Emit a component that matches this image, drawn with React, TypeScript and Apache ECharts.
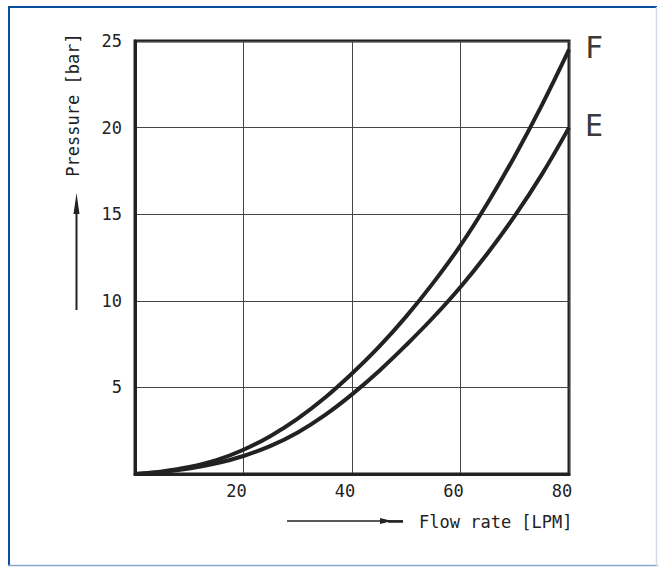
import React, { useEffect, useRef } from "react";
import * as echarts from "echarts";

const flowRate = [0, 5, 10, 15, 20, 25, 30, 35, 40, 45, 50, 55, 60, 65, 70, 75, 80];
const pressureF = [0, 0.15, 0.4, 0.8, 1.4, 2.2, 3.2, 4.4, 5.8, 7.35, 9.1, 11.05, 13.2, 15.65, 18.35, 21.3, 24.5];
const pressureE = [0, 0.12, 0.32, 0.62, 1.04, 1.62, 2.4, 3.4, 4.6, 5.95, 7.45, 9.05, 10.8, 12.75, 14.9, 17.3, 20.0];
const xTicks = [20, 40, 60, 80];
const yTicks = [5, 10, 15, 20, 25];
const seriesNames = ["F", "E"];
const xName = "Flow rate [LPM]";
const yName = "Pressure [bar]";

const MONO = "'DejaVu Sans Mono', monospace";

export default function App() {
  const ref = useRef<HTMLDivElement>(null);
  useEffect(() => {
    if (!ref.current) return;
    const chart = echarts.init(ref.current, null, { renderer: "svg" });
    const mk = (vals: number[]) => flowRate.map((x, i) => [x, vals[i]]);
    const lineStyle = { color: "#222", width: 4 };
    const endLabel = (name: string) => ({
      show: true,
      formatter: name,
      fontFamily: MONO,
      fontSize: 30,
      color: "#3a3a3a",
      distance: 16,
      offset: [0, -2],
    });
    chart.setOption({
      animation: false,
      backgroundColor: "#fff",
      grid: {
        left: 135,
        top: 41,
        right: 89,
        bottom: 93,
        show: true,
        borderColor: "#222",
        borderWidth: 3,
      },
      xAxis: {
        type: "value",
        min: 0,
        max: 80,
        interval: 20,
        axisLine: { show: true, onZero: false, lineStyle: { color: "#222", width: 3 } },
        axisTick: { show: false },
        splitLine: { show: true, lineStyle: { color: "#444", width: 1 } },
        axisLabel: {
          fontFamily: MONO,
          fontSize: 17,
          color: "#222",
          margin: 8,
          padding: [0, 14, 0, 0],
          formatter: (v: number) => (xTicks.includes(v) ? String(v) : ""),
        },
      },
      yAxis: {
        type: "value",
        min: 0,
        max: 25,
        interval: 5,
        axisLine: { show: true, onZero: false, lineStyle: { color: "#222", width: 3 } },
        axisTick: { show: false },
        splitLine: { show: true, lineStyle: { color: "#444", width: 1 } },
        axisLabel: {
          fontFamily: MONO,
          fontSize: 17,
          color: "#222",
          margin: 13,
          formatter: (v: number) => (yTicks.includes(v) ? String(v) : ""),
        },
      },
      series: [
        {
          type: "line",
          name: seriesNames[0],
          data: mk(pressureF),
          smooth: 0.4,
          showSymbol: false,
          lineStyle,
          endLabel: endLabel(seriesNames[0]),
          clip: false,
        },
        {
          type: "line",
          name: seriesNames[1],
          data: mk(pressureE),
          smooth: 0.4,
          showSymbol: false,
          lineStyle,
          endLabel: endLabel(seriesNames[1]),
          clip: false,
        },
      ],
      graphic: [
        // frame
        { type: "line", shape: { x1: 8, y1: 7, x2: 657, y2: 7 }, style: { stroke: "#0a4f9a", lineWidth: 2 } },
        { type: "line", shape: { x1: 9, y1: 6, x2: 9, y2: 566 }, style: { stroke: "#0a4f9a", lineWidth: 2 } },
        { type: "line", shape: { x1: 8, y1: 565.5, x2: 658, y2: 565.5 }, style: { stroke: "#86a6c9", lineWidth: 1.5 } },
        { type: "line", shape: { x1: 656.5, y1: 7, x2: 656.5, y2: 566 }, style: { stroke: "#d3dde8", lineWidth: 1.5 } },
        // y name + arrow
        {
          type: "text",
          x: 73,
          y: 105,
          rotation: Math.PI / 2,
          style: {
            text: yName,
            fontFamily: MONO,
            fontSize: 17,
            fill: "#222",
            align: "center",
            verticalAlign: "middle",
          },
        },
        { type: "line", shape: { x1: 76.5, y1: 205, x2: 76.5, y2: 310 }, style: { stroke: "#222", lineWidth: 2 } },
        { type: "polygon", shape: { points: [[76.5, 193], [73.5, 214], [79.5, 214]] }, style: { fill: "#222" } },
        // x name + arrow
        {
          type: "text",
          x: 419,
          y: 522,
          style: {
            text: xName,
            fontFamily: MONO,
            fontSize: 17,
            fill: "#222",
            align: "left",
            verticalAlign: "middle",
          },
        },
        { type: "line", shape: { x1: 287, y1: 521, x2: 403, y2: 521 }, style: { stroke: "#222", lineWidth: 1.5 } },
        { type: "polygon", shape: { points: [[392, 521], [380, 518], [380, 524]] }, style: { fill: "#222" } },
        { type: "line", shape: { x1: 388, y1: 521.5, x2: 403, y2: 521.5 }, style: { stroke: "#222", lineWidth: 2.5 } },
      ],
    });
    return () => chart.dispose();
  }, []);
  return (
    <div
      ref={ref}
      style={{ position: "absolute", left: 0, top: 0, width: 658, height: 567 }}
    />
  );
}
